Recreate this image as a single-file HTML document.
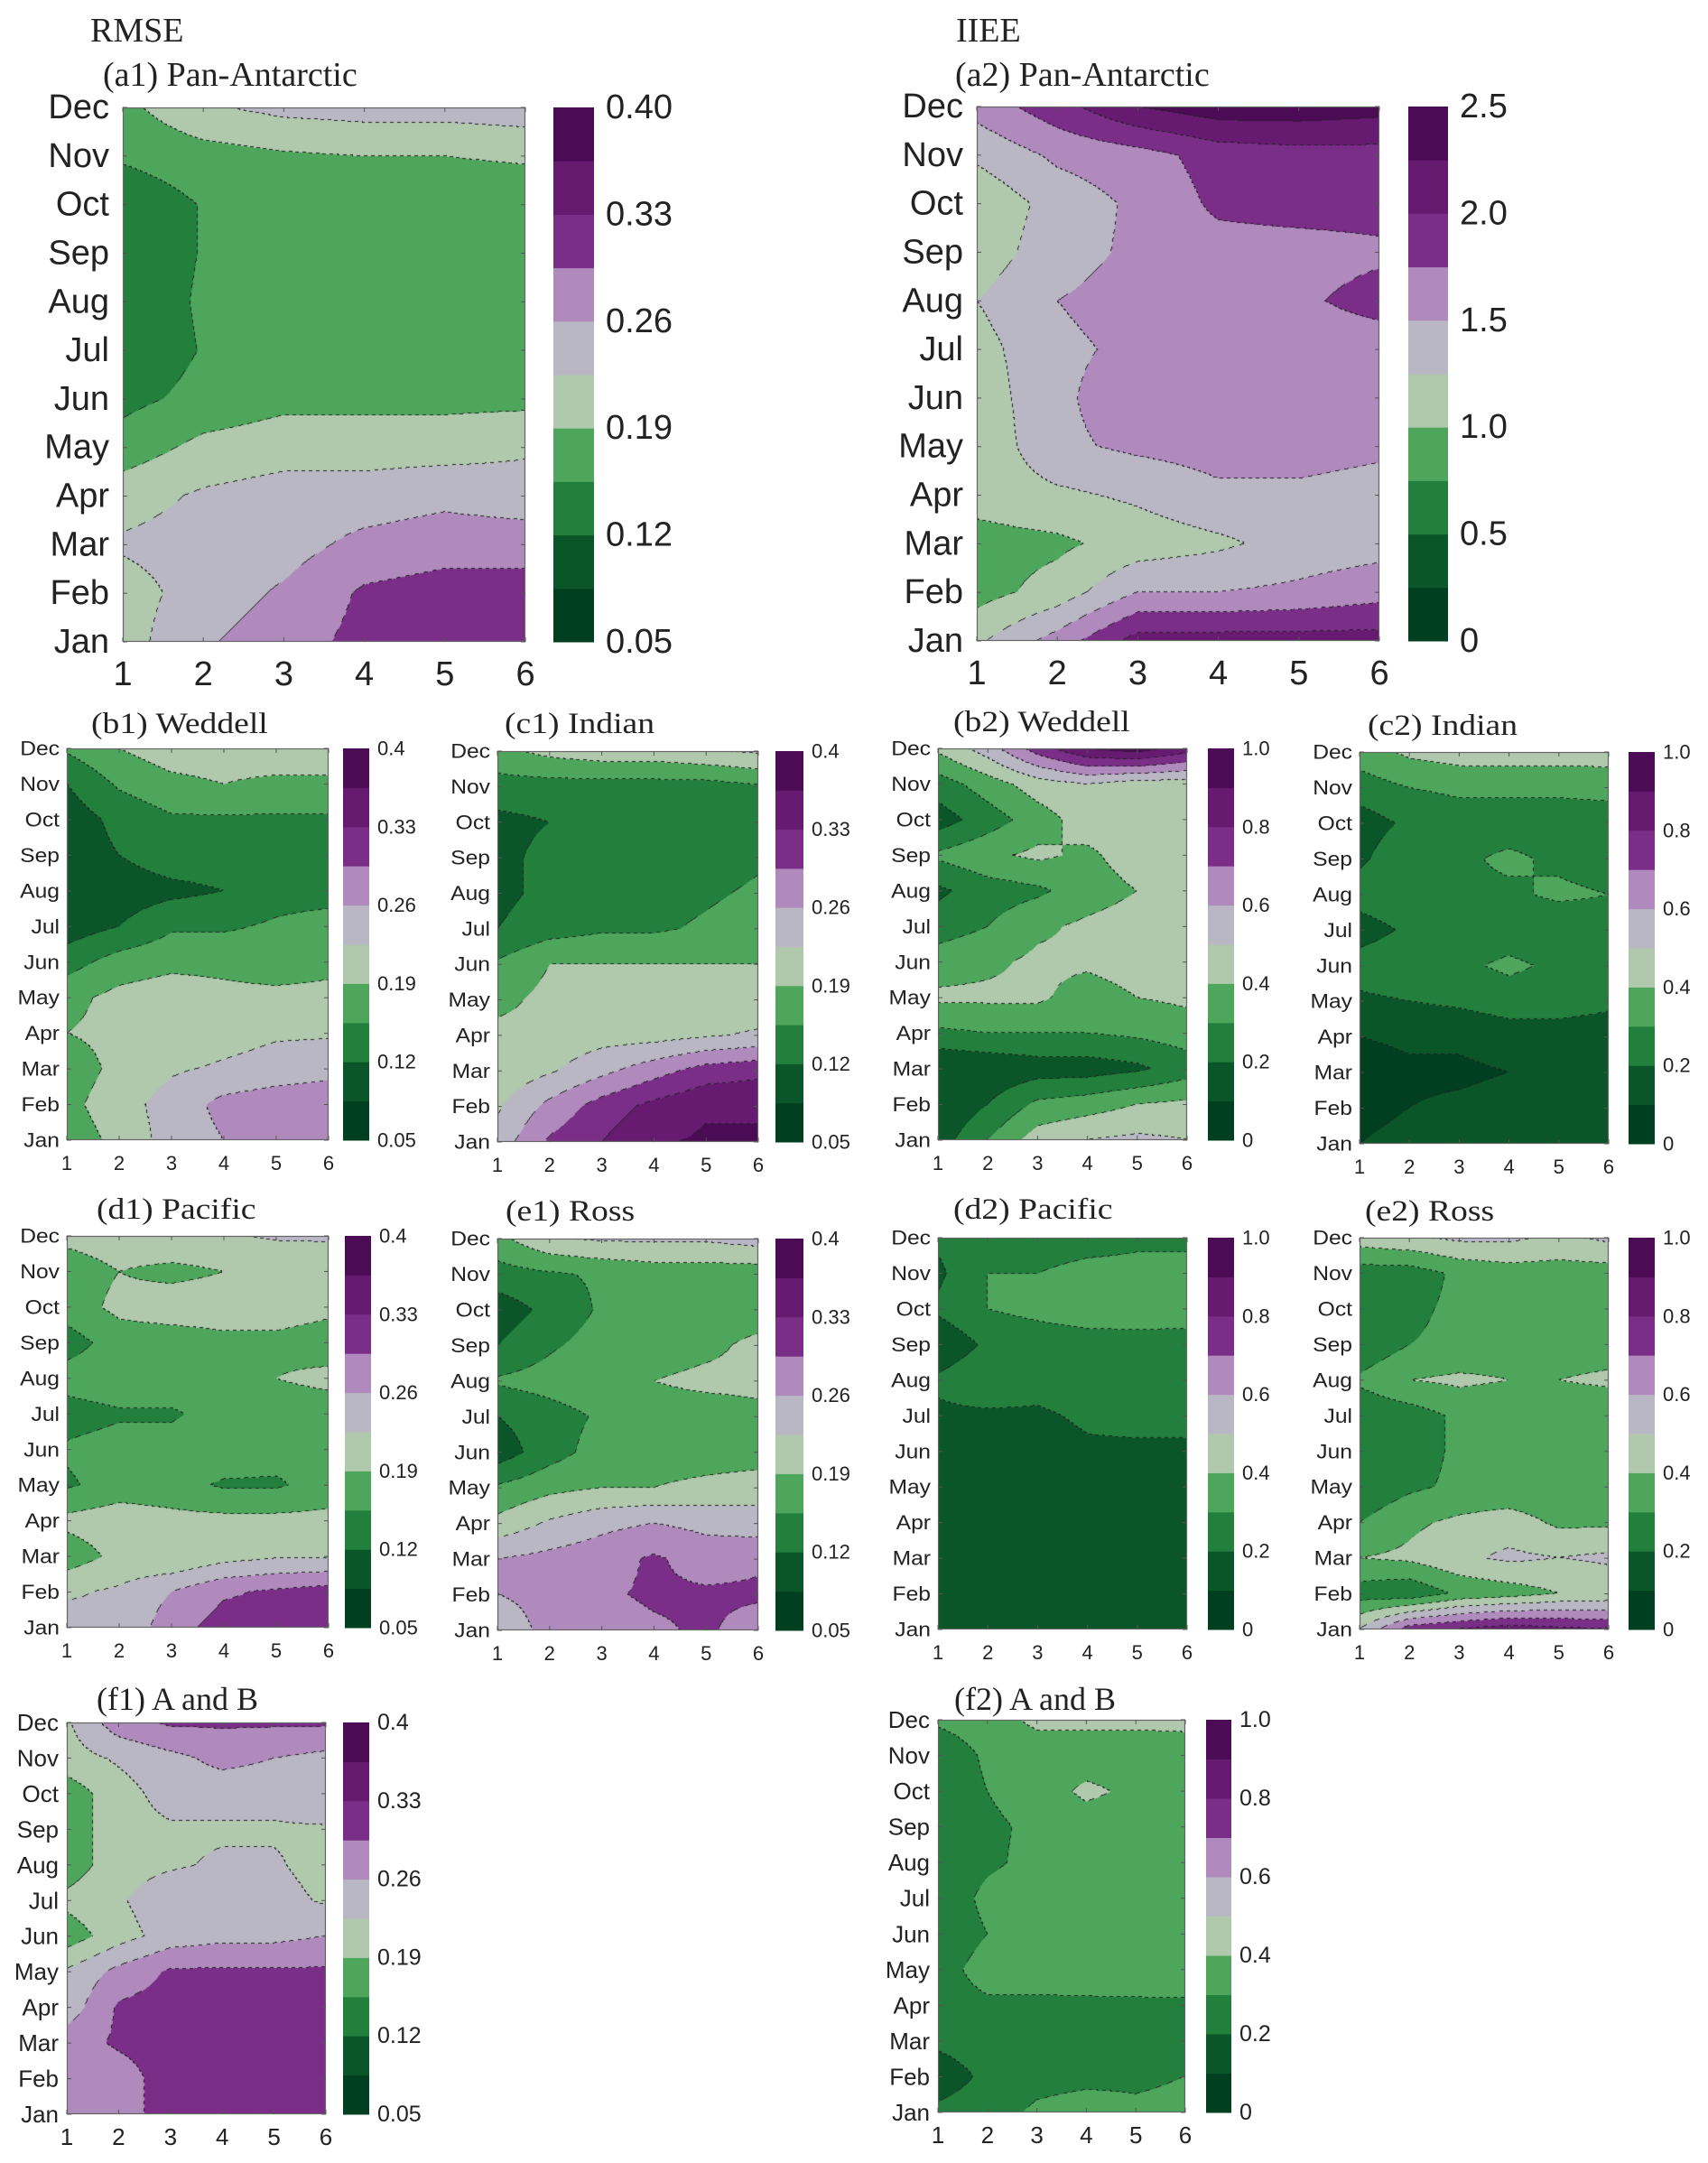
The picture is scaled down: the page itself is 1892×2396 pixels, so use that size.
<!DOCTYPE html>
<html><head><meta charset="utf-8"><style>
html,body{margin:0;padding:0;background:#fff;}
#root{position:relative;width:1892px;height:2396px;overflow:hidden;background:#fff;}
canvas{position:absolute;}
svg{position:absolute;left:0;top:0;}
</style></head><body>
<div id="root">
<svg id="ov" width="1892" height="2396"></svg>
</div>
<script>
// ---- shared labels ----
const months=['Jan','Feb','Mar','Apr','May','Jun','Jul','Aug','Sep','Oct','Nov','Dec'];
const xTicks=[1,2,3,4,5,6];
const rmseTicksBig=['0.05','0.12','0.19','0.26','0.33','0.40'];
const rmseTicksSmall=['0.05','0.12','0.19','0.26','0.33','0.4'];
const iieePanTicks=['0','0.5','1.0','1.5','2.0','2.5'];
const iieeTicks=['0','0.2','0.4','0.6','0.8','1.0'];
const levelColors=['#003f1f','#0a5629','#22803c','#4ea65c','#b0c9ad','#b8b7c3','#b08abd','#7a2e88','#661a70','#4b0b55'];

// ---- data: rows Jan..Dec, columns lead 1..6 ----
const a1=[[0.21,0.255,0.28,0.305,0.31,0.31],[0.21,0.24,0.265,0.30,0.31,0.31],[0.23,0.24,0.245,0.27,0.28,0.28],[0.21,0.23,0.24,0.24,0.25,0.24],[0.17,0.20,0.21,0.21,0.21,0.22],[0.145,0.165,0.18,0.18,0.18,0.18],[0.13,0.157,0.165,0.165,0.17,0.17],[0.13,0.16,0.165,0.165,0.165,0.17],[0.13,0.157,0.165,0.165,0.165,0.165],[0.13,0.157,0.165,0.165,0.165,0.165],[0.16,0.175,0.185,0.19,0.19,0.195],[0.18,0.22,0.235,0.24,0.24,0.245]];
const a2=[[1.2,1.6,2.1,2.1,2.1,2.1],[0.9,1.1,1.5,1.5,1.55,1.65],[0.9,0.95,1.1,1.2,1.35,1.4],[1.1,1.2,1.3,1.45,1.45,1.4],[1.05,1.45,1.55,1.6,1.6,1.55],[1.1,1.45,1.65,1.6,1.6,1.55],[1.15,1.45,1.55,1.65,1.6,1.6],[1.25,1.5,1.6,1.65,1.7,1.85],[1.1,1.4,1.55,1.65,1.65,1.7],[1.05,1.35,1.55,1.8,1.85,1.85],[1.3,1.55,1.65,1.85,1.9,1.9],[1.6,1.9,2.25,2.4,2.4,2.35]];
const b1=[[0.17,0.20,0.24,0.26,0.27,0.27],[0.18,0.21,0.24,0.27,0.28,0.28],[0.17,0.20,0.22,0.23,0.24,0.25],[0.19,0.20,0.20,0.21,0.22,0.22],[0.18,0.20,0.21,0.20,0.20,0.20],[0.14,0.17,0.18,0.18,0.17,0.18],[0.10,0.12,0.15,0.15,0.16,0.17],[0.09,0.10,0.11,0.12,0.14,0.14],[0.10,0.12,0.14,0.14,0.14,0.14],[0.10,0.13,0.15,0.15,0.15,0.15],[0.12,0.16,0.18,0.19,0.18,0.18],[0.16,0.19,0.21,0.21,0.22,0.22]];
const c1=[[0.24,0.30,0.33,0.36,0.37,0.37],[0.22,0.27,0.31,0.34,0.36,0.36],[0.20,0.22,0.25,0.28,0.31,0.32],[0.20,0.20,0.21,0.21,0.22,0.23],[0.18,0.20,0.20,0.20,0.20,0.20],[0.16,0.19,0.19,0.19,0.19,0.19],[0.12,0.14,0.15,0.15,0.16,0.17],[0.11,0.13,0.14,0.14,0.15,0.16],[0.11,0.13,0.14,0.14,0.14,0.15],[0.11,0.12,0.14,0.14,0.14,0.14],[0.14,0.14,0.14,0.14,0.14,0.15],[0.18,0.20,0.21,0.21,0.22,0.23]];
const b2=[[0.15,0.30,0.45,0.50,0.52,0.50],[0.10,0.20,0.32,0.35,0.40,0.42],[0.10,0.12,0.15,0.15,0.18,0.25],[0.28,0.30,0.30,0.30,0.32,0.35],[0.42,0.42,0.42,0.35,0.40,0.42],[0.35,0.38,0.42,0.42,0.45,0.45],[0.25,0.30,0.38,0.42,0.45,0.45],[0.18,0.25,0.28,0.35,0.40,0.45],[0.32,0.38,0.42,0.38,0.45,0.45],[0.15,0.25,0.35,0.45,0.45,0.45],[0.25,0.35,0.45,0.50,0.45,0.45],[0.42,0.55,0.75,0.90,0.95,0.85]];
const c2=[[0.10,0.12,0.14,0.15,0.15,0.18],[0.08,0.10,0.12,0.14,0.14,0.15],[0.05,0.08,0.08,0.10,0.12,0.12],[0.10,0.12,0.12,0.15,0.15,0.15],[0.18,0.20,0.22,0.25,0.25,0.22],[0.25,0.28,0.28,0.32,0.28,0.25],[0.15,0.22,0.22,0.25,0.22,0.25],[0.25,0.28,0.28,0.28,0.32,0.30],[0.18,0.28,0.28,0.32,0.28,0.25],[0.15,0.22,0.25,0.25,0.25,0.25],[0.25,0.30,0.32,0.32,0.32,0.33],[0.35,0.42,0.45,0.45,0.45,0.45]];
const d1=[[0.24,0.23,0.28,0.31,0.31,0.31],[0.22,0.23,0.26,0.29,0.30,0.31],[0.17,0.20,0.19,0.21,0.22,0.22],[0.20,0.21,0.20,0.20,0.20,0.20],[0.15,0.17,0.17,0.15,0.15,0.17],[0.16,0.17,0.17,0.18,0.17,0.17],[0.14,0.15,0.15,0.17,0.17,0.17],[0.17,0.18,0.18,0.18,0.19,0.20],[0.14,0.17,0.17,0.18,0.18,0.17],[0.17,0.20,0.21,0.21,0.21,0.20],[0.17,0.19,0.18,0.19,0.19,0.20],[0.20,0.21,0.22,0.22,0.23,0.23]];
const e1=[[0.24,0.27,0.28,0.29,0.30,0.28],[0.26,0.27,0.29,0.30,0.30,0.30],[0.26,0.27,0.28,0.30,0.28,0.29],[0.20,0.23,0.25,0.26,0.25,0.24],[0.16,0.18,0.19,0.19,0.20,0.21],[0.10,0.14,0.17,0.17,0.17,0.17],[0.12,0.14,0.16,0.17,0.17,0.18],[0.16,0.17,0.18,0.19,0.20,0.20],[0.12,0.15,0.17,0.17,0.18,0.20],[0.10,0.13,0.16,0.17,0.17,0.17],[0.14,0.15,0.16,0.17,0.17,0.17],[0.18,0.22,0.23,0.23,0.23,0.24]];
const d2=[[0.12,0.15,0.18,0.18,0.18,0.18],[0.12,0.15,0.16,0.18,0.19,0.20],[0.12,0.14,0.14,0.14,0.15,0.17],[0.12,0.12,0.12,0.12,0.14,0.15],[0.12,0.14,0.14,0.14,0.14,0.14],[0.15,0.15,0.15,0.18,0.17,0.17],[0.18,0.18,0.18,0.22,0.25,0.25],[0.22,0.28,0.25,0.28,0.25,0.25],[0.12,0.22,0.24,0.25,0.25,0.25],[0.22,0.30,0.33,0.36,0.37,0.36],[0.18,0.30,0.30,0.33,0.33,0.33],[0.22,0.25,0.25,0.26,0.28,0.28]];
const e2=[[0.50,0.75,0.80,0.85,0.82,0.80],[0.25,0.22,0.32,0.35,0.40,0.42],[0.40,0.42,0.48,0.52,0.50,0.52],[0.30,0.38,0.42,0.45,0.38,0.38],[0.22,0.28,0.32,0.32,0.32,0.35],[0.20,0.25,0.32,0.32,0.32,0.32],[0.22,0.25,0.32,0.32,0.32,0.32],[0.32,0.40,0.42,0.40,0.40,0.42],[0.22,0.30,0.32,0.35,0.35,0.35],[0.22,0.28,0.32,0.35,0.35,0.35],[0.25,0.25,0.32,0.35,0.35,0.35],[0.45,0.48,0.52,0.52,0.48,0.52]];
const f1=[[0.27,0.28,0.31,0.31,0.32,0.31],[0.26,0.28,0.31,0.32,0.32,0.31],[0.28,0.30,0.31,0.32,0.32,0.31],[0.24,0.30,0.31,0.32,0.32,0.31],[0.23,0.27,0.30,0.30,0.30,0.30],[0.17,0.21,0.24,0.25,0.25,0.26],[0.20,0.22,0.25,0.25,0.24,0.22],[0.17,0.21,0.22,0.23,0.23,0.21],[0.17,0.21,0.22,0.22,0.22,0.22],[0.17,0.21,0.24,0.24,0.24,0.26],[0.21,0.23,0.25,0.27,0.26,0.25],[0.22,0.28,0.30,0.30,0.30,0.30]];
const f2=[[0.22,0.25,0.32,0.35,0.32,0.33],[0.15,0.22,0.26,0.27,0.28,0.30],[0.22,0.25,0.26,0.25,0.25,0.25],[0.25,0.28,0.28,0.28,0.28,0.28],[0.25,0.35,0.35,0.36,0.37,0.38],[0.22,0.30,0.35,0.36,0.35,0.35],[0.22,0.33,0.37,0.37,0.36,0.35],[0.22,0.28,0.33,0.34,0.34,0.33],[0.22,0.28,0.32,0.35,0.35,0.35],[0.22,0.30,0.35,0.42,0.38,0.38],[0.22,0.32,0.35,0.35,0.35,0.36],[0.32,0.36,0.42,0.42,0.42,0.42]];

const NS='http://www.w3.org/2000/svg';
const ov=document.getElementById('ov');
const root=document.getElementById('root');
const SANS='"Liberation Sans", Arial, sans-serif';
const SERIF='"Liberation Serif", "Times New Roman", serif';

function addText(x,y,str,size,family,anchor,sx,name,baseline){
  const t=document.createElementNS(NS,'text');
  t.setAttribute('transform','translate('+x+','+y+') scale('+sx+',1)');
  t.setAttribute('font-size',size);
  t.setAttribute('font-family',family);
  t.setAttribute('fill','#222');
  t.setAttribute('text-anchor',anchor);
  if(baseline) t.setAttribute('dominant-baseline',baseline);
  t.textContent=str;
  
  
  ov.appendChild(t);
  return t;
}
function addLine(x1,y1,x2,y2,name){
  const l=document.createElementNS(NS,'line');
  l.setAttribute('x1',x1);l.setAttribute('y1',y1);l.setAttribute('x2',x2);l.setAttribute('y2',y2);
  l.setAttribute('stroke','#555');l.setAttribute('stroke-width','1');
  
  
  ov.appendChild(l);
}

const panels=[
 {id:'a1',data:a1,vmin:0.05,vmax:0.40,ticks:rmseTicksBig,title:'(a1) Pan-Antarctic',tx:114,ty:95,x:136,y:119,w:446,h:592,cbx:613,cbw:45,st:'big'},
 {id:'a2',data:a2,vmin:0,vmax:2.5,ticks:iieePanTicks,title:'(a2) Pan-Antarctic',tx:1058,ty:95,x:1082,y:118,w:446,h:592,cbx:1560,cbw:44,st:'big'},
 {id:'b1',data:b1,vmin:0.05,vmax:0.40,ticks:rmseTicksSmall,title:'(b1) Weddell',tx:101,ty:812,x:74,y:829,w:290,h:434,cbx:380,cbw:29,st:'narrow'},
 {id:'c1',data:c1,vmin:0.05,vmax:0.40,ticks:rmseTicksSmall,title:'(c1) Indian',tx:559,ty:812,x:551,y:832,w:289,h:433,cbx:859,cbw:31,st:'narrow'},
 {id:'b2',data:b2,vmin:0,vmax:1,ticks:iieeTicks,title:'(b2) Weddell',tx:1056,ty:810,x:1039,y:829,w:276,h:434,cbx:1338,cbw:29,st:'narrow'},
 {id:'c2',data:c2,vmin:0,vmax:1,ticks:iieeTicks,title:'(c2) Indian',tx:1515,ty:814,x:1506,y:833,w:276,h:434,cbx:1804,cbw:29,st:'narrow'},
 {id:'d1',data:d1,vmin:0.05,vmax:0.40,ticks:rmseTicksSmall,title:'(d1) Pacific',tx:107,ty:1350,x:74,y:1369,w:290,h:434,cbx:382,cbw:29,st:'narrow'},
 {id:'e1',data:e1,vmin:0.05,vmax:0.40,ticks:rmseTicksSmall,title:'(e1) Ross',tx:560,ty:1352,x:551,y:1372,w:289,h:434,cbx:859,cbw:31,st:'narrow'},
 {id:'d2',data:d2,vmin:0,vmax:1,ticks:iieeTicks,title:'(d2) Pacific',tx:1056,ty:1350,x:1039,y:1371,w:276,h:434,cbx:1338,cbw:29,st:'narrow'},
 {id:'e2',data:e2,vmin:0,vmax:1,ticks:iieeTicks,title:'(e2) Ross',tx:1512,ty:1352,x:1506,y:1371,w:276,h:434,cbx:1804,cbw:29,st:'narrow'},
 {id:'f1',data:f1,vmin:0.05,vmax:0.40,ticks:rmseTicksSmall,title:'(f1) A and B',tx:107,ty:1894,x:74,y:1908,w:287,h:434,cbx:380,cbw:29,st:'mid'},
 {id:'f2',data:f2,vmin:0,vmax:1,ticks:iieeTicks,title:'(f2) A and B',tx:1057,ty:1894,x:1039,y:1905,w:274,h:435,cbx:1336,cbw:28,st:'mid'}
];
const styles={
 big:{lab:38,sx:1,gap:15,xoff:48,cbl:38,cbsx:1,cbgap:13,tsize:38,tsx:1},
 narrow:{lab:22,sx:1.12,gap:8,xoff:33,cbl:22,cbsx:1,cbgap:9,tsize:33,tsx:1.14},
 mid:{lab:26,sx:1,gap:9,xoff:34,cbl:25,cbsx:1,cbgap:9,tsize:36,tsx:1}
};

function levelOf(v,p){let k=Math.floor((v-p.vmin)/(p.vmax-p.vmin)*10);return Math.max(0,Math.min(9,k));}
function hex(c){return [parseInt(c.substr(1,2),16),parseInt(c.substr(3,2),16),parseInt(c.substr(5,2),16)];}
const rgb=levelColors.map(hex);

function drawPanel(p){
  const s=styles[p.st];
  const nr=p.data.length,nc=p.data[0].length;
  const xScale=c=>p.x+(c-1)/(nc-1)*p.w;
  const yScale=r=>p.y+p.h-r/(nr-1)*p.h;
  const cv=document.createElement('canvas');
  cv.width=p.w;cv.height=p.h;
  cv.style.left=p.x+'px';cv.style.top=p.y+'px';
  
  
  root.insertBefore(cv,ov);
  const ctx=cv.getContext('2d');
  const img=ctx.createImageData(p.w,p.h);
  const L=new Int8Array(p.w*p.h);
  for(let py=0;py<p.h;py++){
    const fr=(p.h-1-py)/(p.h-1)*(nr-1);
    const r0=Math.min(nr-2,Math.floor(fr)),tr=fr-r0;
    for(let px=0;px<p.w;px++){
      const fc=px/(p.w-1)*(nc-1);
      const c0=Math.min(nc-2,Math.floor(fc)),tc=fc-c0;
      const v=(1-tr)*((1-tc)*p.data[r0][c0]+tc*p.data[r0][c0+1])+tr*((1-tc)*p.data[r0+1][c0]+tc*p.data[r0+1][c0+1]);
      L[py*p.w+px]=levelOf(v,p);
    }
  }
  for(let py=0;py<p.h;py++)for(let px=0;px<p.w;px++){
    const i=py*p.w+px,k=L[i];
    let col=rgb[k];
    const edge=(px<p.w-1&&L[i+1]!==k)||(py<p.h-1&&L[i+p.w]!==k);
    if(edge&&(((px+py)>>2)&1)===0) col=[34,34,34];
    img.data[i*4]=col[0];img.data[i*4+1]=col[1];img.data[i*4+2]=col[2];img.data[i*4+3]=255;
  }
  ctx.putImageData(img,0,0);
  const fr=document.createElementNS(NS,'rect');
  fr.setAttribute('x',p.x+0.5);fr.setAttribute('y',p.y+0.5);fr.setAttribute('width',p.w-1);fr.setAttribute('height',p.h-1);
  fr.setAttribute('fill','none');fr.setAttribute('stroke','#666');fr.setAttribute('stroke-width','1.2');
  
  
  ov.appendChild(fr);
  months.forEach((m,i)=>{
    const yy=yScale(i);
    addLine(p.x,yy,p.x+5,yy,'y-tick');
    addLine(p.x+p.w-5,yy,p.x+p.w,yy,'y-tick');
    addText(p.x-s.gap,yy,m,s.lab,SANS,'end',s.sx,'month-label-'+m.toLowerCase(),'central');
  });
  xTicks.forEach(t=>{
    const xx=xScale(t);
    addLine(xx,p.y+p.h-5,xx,p.y+p.h,'x-tick');
    addLine(xx,p.y,xx,p.y+5,'x-tick');
    addText(xx,p.y+p.h+s.xoff,String(t),s.lab,SANS,'middle',1,'x-tick-label');
  });
  for(let k=0;k<10;k++){
    const r=document.createElementNS(NS,'rect');
    const y0=p.y+p.h-(k+1)/10*p.h;
    r.setAttribute('x',p.cbx);r.setAttribute('y',y0);r.setAttribute('width',p.cbw);r.setAttribute('height',p.h/10+0.5);
    r.setAttribute('fill',levelColors[k]);
    
    
    ov.appendChild(r);
  }
  p.ticks.forEach((t,j)=>{
    const yy=p.y+p.h-j/(p.ticks.length-1)*p.h;
    addText(p.cbx+p.cbw+s.cbgap,yy,t,s.cbl,SANS,'start',s.cbsx,'colorbar-tick-label','central');
  });
  addText(p.tx,p.ty,p.title,s.tsize,SERIF,'start',s.tsx,'panel-title-'+p.id);
}
panels.forEach(drawPanel);
addText(100,46,'RMSE',38,SERIF,'start',1,'rmse-column-title');
addText(1059,46,'IIEE',38,SERIF,'start',1,'iiee-column-title');
</script>
</body></html>
